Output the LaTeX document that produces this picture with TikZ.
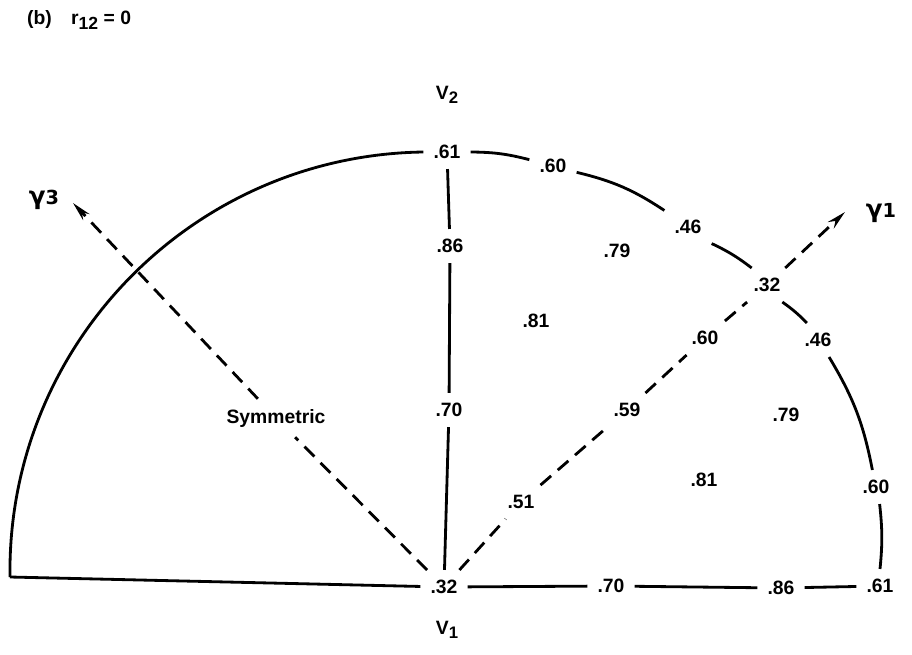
\documentclass[tikz,border=0pt]{standalone}
\usepackage{fontspec}
\setmainfont{Liberation Sans}
\newfontfamily\gamfont{DejaVu Sans}
\usetikzlibrary{arrows.meta}

\begin{document}
\begin{tikzpicture}[x=0.02cm,y=0.02cm,line width=1.6pt,
    lab/.style={font=\fontsize{11}{13}\selectfont\bfseries,inner sep=5pt},
    gam/.style={font=\fontsize{14}{16}\selectfont\gamfont\bfseries},
    dsh/.style={dash pattern=on 8pt off 5pt},
    tip/.style={-{Stealth[length=11pt,width=5pt]}}]
\useasboundingbox (0,0) rectangle (912,654);
% title and axis names
\node[lab,anchor=west] (title) at (17,634) {(b)\quad r\raisebox{-.45ex}{\fontsize{10}{11}\selectfont 12} = 0};
\node[lab] (v2) at (447,559) {V\raisebox{-.45ex}{\fontsize{9.5}{10}\selectfont 2}};
\node[lab] (v1) at (447,24) {V\raisebox{-.45ex}{\fontsize{9.5}{10}\selectfont 1}};
% values on the frame
\coordinate (l) at (10,77);
\node[lab] (o) at (444,67) {.32};
\node[lab] (t) at (447,502) {.61};
\node[lab] (a86) at (450,408) {.86};
\node[lab] (a70) at (449,244) {.70};
\node[lab] (b70) at (611,68) {.70};
\node[lab] (b86) at (781,66) {.86};
\node[lab] (b61) at (880,68) {.61};
\node[lab] (r60) at (553,488) {.60};
\node[lab] (r46) at (688,427) {.46};
\node[lab] (r32) at (767,369) {.32};
\node[lab] (s46) at (818,314) {.46};
\node[lab] (s60) at (876,167) {.60};
% values on the gamma 1 axis
\node[lab] (d51) at (521,152) {.51};
\node[lab] (d59) at (627,244) {.59};
\node[lab] (d60) at (705,316) {.60};
\coordinate (g1) at (845,442);
\node[gam] (g1l) at (881,441) {γ{\fontsize{11}{12}\selectfont 1}};
\node[lab] (sym) at (276,236) {Symmetric};
\coordinate (g3) at (73,451);
\node[gam] (g3l) at (44,454) {γ{\fontsize{11}{12}\selectfont 3}};
% values inside
\node[lab] (c79) at (617,403) {.79};
\node[lab] (c81) at (536,333) {.81};
\node[lab] (e79) at (786,239) {.79};
\node[lab] (e81) at (704,174) {.81};

\draw (l) -- (o) -- (b70) -- (b86) -- (b61);
\draw (o) -- (a70) -- (a86) -- (t);
\draw (l) to[bend left=45] (t.west);
\draw (t.east) to[bend left=7] (r60.165);
\draw (r60.-15) to[bend left=10] (r46.145);
\draw (r46.-35) to[bend left=6] (r32.132);
\draw (r32.-48) to[bend left=5] (s46.123);
\draw (s46.-57) to[bend left=10] (s60.102);
\draw (s60.-78) to[bend left=6] (b61.north);
\draw[dsh] (o) -- (d51) -- (d59) -- (d60) -- (r32);
\draw[dsh,tip] (r32) -- (g1);
\draw[dsh] (o) -- (sym);
\draw[dsh,tip] (sym) -- (g3);
\end{tikzpicture}
\end{document}
